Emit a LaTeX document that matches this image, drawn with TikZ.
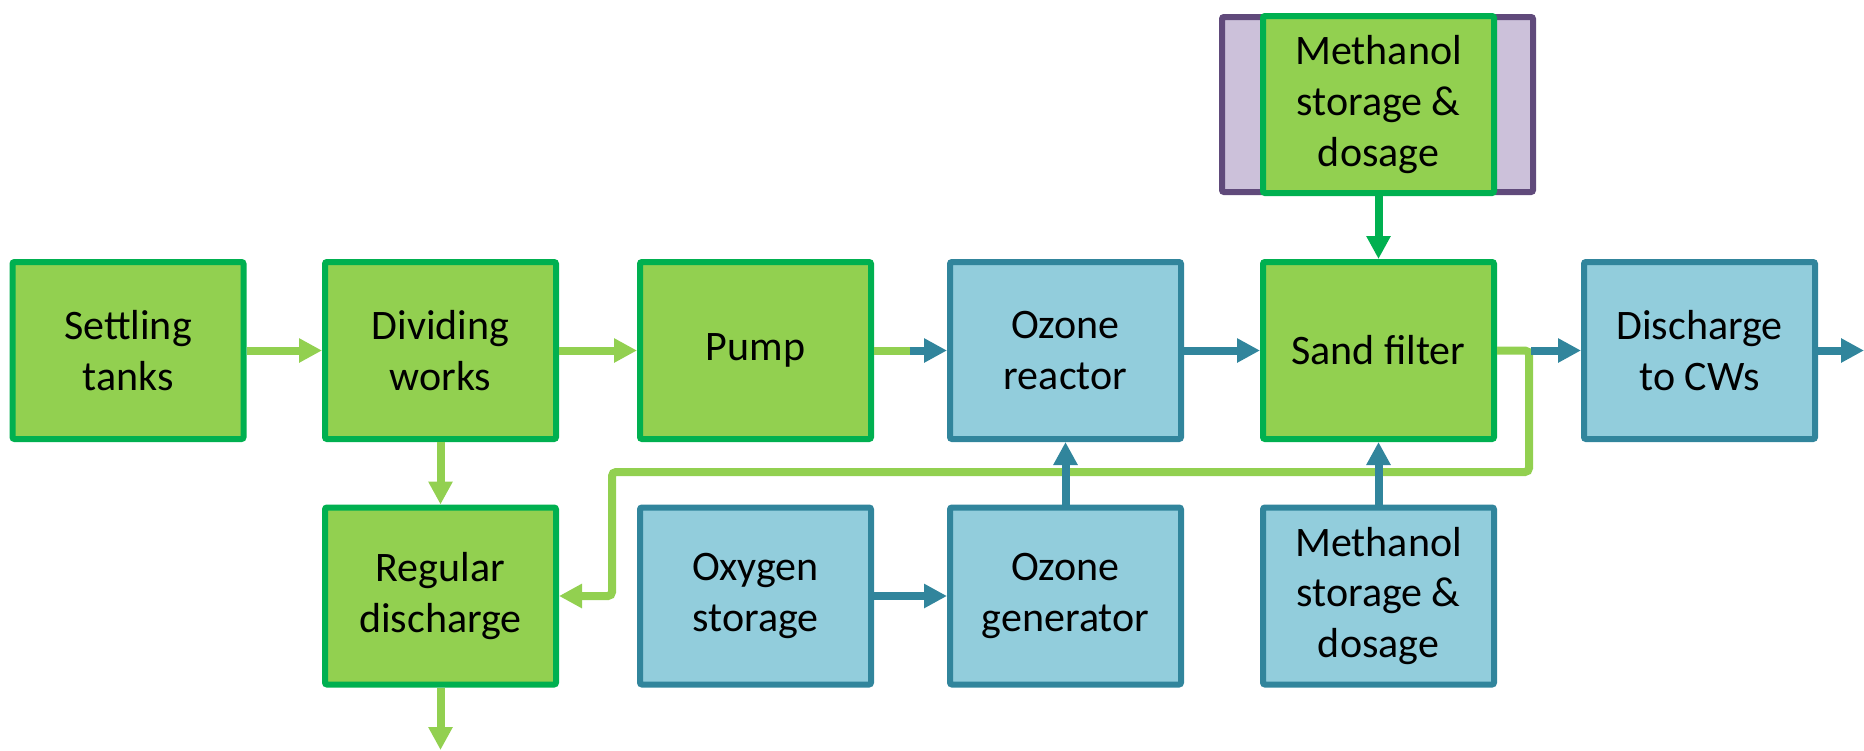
\documentclass[tikz,border=0pt]{standalone}
\usepackage{fontspec}
\setmainfont{Carlito}
\usetikzlibrary{arrows.meta}
\definecolor{gfill}{HTML}{92D050}
\definecolor{gborder}{HTML}{00B050}
\definecolor{bfill}{HTML}{92CDDC}
\definecolor{bborder}{HTML}{31859C}
\definecolor{pfill}{HTML}{CCC1DA}
\definecolor{pborder}{HTML}{604A7B}
\tikzset{
  box/.style={rectangle, minimum width=115.5pt, minimum height=88.5pt, line width=3pt,
    rounded corners=1pt, align=center, inner sep=0pt,
    font=\fontsize{21pt}{25.3pt}\selectfont, text=black},
  gbox/.style={box, fill=gfill, draw=gborder},
  bbox/.style={box, fill=bfill, draw=bborder},
  lgline/.style={draw=gfill, line width=4pt},
  dgline/.style={draw=gborder, line width=4pt},
  blline/.style={draw=bborder, line width=4pt},
  tip/.style={-{Triangle[width=11.5pt,length=11.5pt]}},
}
\begin{document}
\begin{tikzpicture}[x=0.5pt,y=-0.5pt]
\useasboundingbox (0,0) rectangle (1864,750);
% purple background box
\draw[fill=pfill, draw=pborder, line width=3pt, rounded corners=1pt] (1222,17) rectangle (1533,192);
% top row
\node[gbox] (settling) at (128,350.5) {Settling\\tanks};
\node[gbox] (dividing) at (440.5,350.5) {Dividing\\works};
\node[gbox] (pump) at (755.5,350.5) {Pump};
\node[bbox] (reactor) at (1065.5,350.5) {Ozone\\reactor};
\node[gbox] (sand) at (1378.5,350.5) {Sand filter};
\node[bbox] (cws) at (1699.5,350.5) {Discharge\\to CWs};
% methanol top
\node[gbox] (methtop) at (1378.5,104.5) {Methanol\\storage \&\\dosage};
% bottom row
\node[gbox] (regular) at (440.5,596) {Regular\\discharge};
\node[bbox] (oxygen) at (755.5,596) {Oxygen\\storage};
\node[bbox] (generator) at (1065.5,596) {Ozone\\generator};
\node[bbox] (methbot) at (1378.5,596) {Methanol\\storage \&\\dosage};
% coordinates
\coordinate (pumpsplit) at (910,350.5);
\coordinate (fbA) at (1529,472);
\coordinate (fbB) at (612,472);
\coordinate (sandsplit) at (1531,350.5);
\coordinate (out) at (1864,350.5);
\coordinate (down) at (440.5,750);
% connectors
\draw[lgline, tip] (settling) -- (dividing);
\draw[lgline, tip] (dividing) -- (pump);
\draw[lgline, tip] (dividing) -- (regular);
\draw[lgline] (pump) -- (pumpsplit);
\draw[blline, tip] (pumpsplit) -- (reactor);
\draw[blline, tip] (reactor) -- (sand);
\draw[dgline, tip] (methtop) -- (sand);
\draw[lgline, rounded corners=2pt, tip] (sand.east) -| (fbA) -- (fbB) |- (regular.east);
\draw[blline, tip] (sandsplit) -- (cws);
\draw[blline, tip] (cws) -- (out);
\draw[lgline, tip] (regular) -- (down);
\draw[blline, tip] (oxygen) -- (generator);
\draw[blline, tip] (generator) -- (reactor);
\draw[blline, tip] (methbot) -- (sand);
\end{tikzpicture}
\end{document}
